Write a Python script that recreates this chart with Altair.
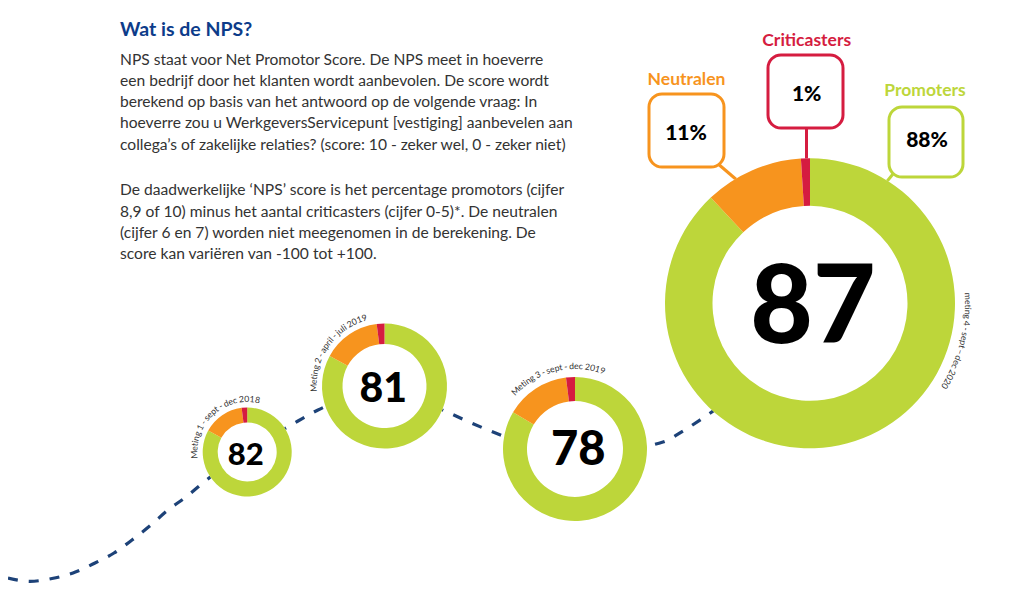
import math
import pandas as pd
import altair as alt

# ------------------------------------------------------------------ data
categories = ["Promoters", "Neutralen", "Criticasters"]
meting_labels = [
    "Meting 1 - sept - dec 2018",
    "Meting 2 - april - juli 2019",
    "Meting 3 - sept - dec 2019",
    "meting 4 - sept \u2013 dec 2020",
]
nps_scores = [82, 81, 78, 87]
promoters = [83.0, 83.0, 83.5, 88.0]
neutralen = [15.0, 15.0, 14.5, 11.0]
criticasters = [2.0, 2.0, 2.0, 1.0]
callout_values = ["88%", "11%", "1%"]          # Promoters, Neutralen, Criticasters
title_text = "Wat is de NPS?"
body_lines = [
    "NPS staat voor Net Promotor Score. De NPS meet in hoeverre",
    "een bedrijf door het klanten wordt aanbevolen. De score wordt",
    "berekend op basis van het antwoord op de volgende vraag: In",
    "hoeverre zou u WerkgeversServicepunt [vestiging] aanbevelen aan",
    "collega\u2019s of zakelijke relaties? (score: 10 - zeker wel, 0 - zeker niet)",
    "De daadwerkelijke \u2018NPS\u2019 score is het percentage promotors (cijfer",
    "8,9 of 10) minus het aantal criticasters (cijfer 0-5)*. De neutralen",
    "(cijfer 6 en 7) worden niet meegenomen in de berekening. De",
    "score kan vari\u00ebren van -100 tot +100.",
]

# ------------------------------------------------------------------ layout (page pixels)
W, H = 1000, 575
X0, Y0 = 8, 8
FONT = "Lato"
cat_colors = ["#bdd63a", "#f7941e", "#d51c40"]
navy = "#0d3c8a"
line_color = "#1d4278"
text_color = "#333333"

donut_cx = [247.2, 384.5, 575.0, 810.0]
donut_cy = [452.0, 386.0, 449.0, 303.3]
donut_ro = [44.5, 62.5, 72.0, 145.0]
donut_ri = [29.5, 42.0, 48.0, 97.5]
num_x = [245.8, 383.3, 578.3, 813.0]
num_y = [465.0, 401.7, 465.0, 343.3]
num_fs = [31, 41, 47, 108]
lab_r = [50.0, 68.0, 80.0, 155.0]
lab_mid = [-41.5, -54.5, -13.5, 104.3]
lab_fs = 8.7

path_x = [8, 30, 52, 73, 95, 114, 132, 151, 168, 186, 204, 298, 318, 384, 447, 467, 488, 575, 663, 683, 703, 740]
path_y = [578, 581.3, 578.5, 573, 563, 553, 540, 525, 510, 497, 482, 421, 410, 392, 412, 421, 430, 455, 442, 431, 418, 392]

box_x0 = [889, 649, 768]
box_x1 = [963, 724, 843]
box_y0 = [107, 94, 55]
box_y1 = [177, 167, 128]
head_x = [925, 686.5, 806.7]
head_y = [96, 85, 46]
val_x = [927, 686, 806.7]
val_y = [146.7, 140, 101]
con_x0 = [893, 717, 806.5]
con_y0 = [174, 163, 128]
con_x1 = [884, 738, 806.5]
con_y1 = [185, 181, 165]

title_xy = (120, 36)
body_x = 120
body_y = [65, 86, 106.7, 128.3, 150, 195, 216.7, 237.7, 259.3]

# approximate glyph advance widths (em) for curved labels
CW = {" ": 0.2, "-": 0.34, "\u2013": 0.5, "M": 0.82, "a": 0.5, "b": 0.56, "c": 0.46,
      "d": 0.56, "e": 0.52, "f": 0.32, "g": 0.5, "h": 0.55, "i": 0.24, "j": 0.24,
      "k": 0.5, "l": 0.24, "m": 0.83, "n": 0.55, "o": 0.55, "p": 0.55, "r": 0.36,
      "s": 0.42, "t": 0.35, "u": 0.55, "v": 0.5, "w": 0.76}

# ------------------------------------------------------------------ tables
xs = alt.Scale(domain=[X0, X0 + W], nice=False, zero=False)
ys = alt.Scale(domain=[Y0, Y0 + H], nice=False, zero=False, reverse=True)
ts = alt.Scale(domain=[0, 360], range=[0, 2 * math.pi], nice=False, zero=False)
cat_scale = alt.Scale(domain=categories, range=cat_colors)


def X(f):
    return alt.X(f"{f}:Q", scale=xs, axis=None)


def Y(f):
    return alt.Y(f"{f}:Q", scale=ys, axis=None)


rows = []
for i in range(4):
    shares = [promoters[i], neutralen[i], criticasters[i]]
    tot = sum(shares)
    cum = 0.0
    for cat, v in zip(categories, shares):
        rows.append(dict(meting=i, cat=cat, cx=donut_cx[i], cy=donut_cy[i],
                         ro=donut_ro[i], ri=donut_ri[i],
                         t0=cum / tot * 360, t1=(cum + v) / tot * 360))
        cum += v
donut_df = pd.DataFrame(rows)
disc_df = pd.DataFrame(dict(cx=donut_cx, cy=donut_cy, ro=donut_ro, t0=[0] * 4, t1=[360] * 4))
num_df = pd.DataFrame(dict(x=num_x, y=num_y, fs=num_fs, txt=[str(v) for v in nps_scores]))
path_df = pd.DataFrame(dict(x=path_x, y=path_y))

chars = []
for i, lab in enumerate(meting_labels):
    ws = [CW.get(c, 0.58 if c.isdigit() else 0.52) * lab_fs for c in lab]
    L = sum(ws)
    r = lab_r[i]
    start = math.radians(lab_mid[i]) - (L / r) / 2
    cum = 0.0
    for c, w in zip(lab, ws):
        th = start + (cum + w / 2) / r
        deg = math.degrees(th)
        chars.append(dict(ch=c, cx=donut_cx[i], cy=donut_cy[i], r=r,
                          th=deg, rot=deg % 360))
        cum += w
char_df = pd.DataFrame(chars)

call_df = pd.DataFrame(dict(cat=categories, val=callout_values,
                            x0=box_x0, x1=box_x1, y0=box_y0, y1=box_y1,
                            hx=head_x, hy=head_y, vx=val_x, vy=val_y,
                            cx0=con_x0, cy0=con_y0, cx1=con_x1, cy1=con_y1))
body_df = pd.DataFrame(dict(x=[body_x] * len(body_lines), y=body_y, txt=body_lines))
title_df = pd.DataFrame(dict(x=[title_xy[0]], y=[title_xy[1]], txt=[title_text]))

# ------------------------------------------------------------------ layers
path = alt.Chart(path_df).mark_line(
    interpolate="monotone", color=line_color, strokeWidth=3.2, strokeDash=[10, 11]
).encode(x=X("x"), y=Y("y"), order="x:Q")

connectors = alt.Chart(call_df).mark_rule(strokeWidth=3).encode(
    x=X("cx0"), y=Y("cy0"), x2="cx1", y2="cy1",
    stroke=alt.Stroke("cat:N", scale=cat_scale, legend=None))

discs = alt.Chart(disc_df).mark_arc(fill="white").encode(
    x=X("cx"), y=Y("cy"),
    theta=alt.Theta("t0:Q", scale=ts, stack=None), theta2="t1:Q",
    radius=alt.Radius("ro:Q", scale=None))

rings = alt.Chart(donut_df).mark_arc().encode(
    x=X("cx"), y=Y("cy"),
    theta=alt.Theta("t0:Q", scale=ts, stack=None), theta2="t1:Q",
    radius=alt.Radius("ro:Q", scale=None), radius2="ri:Q",
    color=alt.Color("cat:N", scale=cat_scale, legend=None))

numbers = alt.Chart(num_df).mark_text(
    font=FONT, fontWeight=900, color="black", align="center", baseline="alphabetic"
).encode(x=X("x"), y=Y("y"), text="txt:N", size=alt.Size("fs:Q", scale=None))

labels = alt.Chart(char_df).mark_text(
    font=FONT, fontSize=lab_fs, color="#333333", align="center", baseline="alphabetic"
).encode(x=X("cx"), y=Y("cy"), text="ch:N",
         theta=alt.Theta("th:Q", scale=ts, stack=None),
         radius=alt.Radius("r:Q", scale=None),
         angle=alt.Angle("rot:Q", scale=None))

boxes = alt.Chart(call_df).mark_rect(fill="white", strokeWidth=3, cornerRadius=13).encode(
    x=X("x0"), x2="x1:Q", y=Y("y0"), y2="y1:Q",
    stroke=alt.Stroke("cat:N", scale=cat_scale, legend=None))

heads = alt.Chart(call_df).mark_text(
    font=FONT, fontWeight="bold", fontSize=17.5, align="center", baseline="alphabetic"
).encode(x=X("hx"), y=Y("hy"), text="cat:N",
         color=alt.Color("cat:N", scale=cat_scale, legend=None))

vals = alt.Chart(call_df).mark_text(
    font=FONT, fontWeight=900, fontSize=21, color="black", align="center", baseline="alphabetic"
).encode(x=X("vx"), y=Y("vy"), text="val:N")

title = alt.Chart(title_df).mark_text(
    font=FONT, fontWeight="bold", fontSize=19.5, color=navy, align="left", baseline="alphabetic"
).encode(x=X("x"), y=Y("y"), text="txt:N")

body = alt.Chart(body_df).mark_text(
    font=FONT, fontSize=15.6, color=text_color, align="left", baseline="alphabetic"
).encode(x=X("x"), y=Y("y"), text="txt:N")

chart = alt.layer(
    path, connectors, discs, rings, numbers, labels, boxes, heads, vals, title, body
).properties(
    width=W, height=H, padding=0,
    autosize=alt.AutoSizeParams(type="none"),
    background="white",
).configure_view(stroke=None)

chart.save("out.html", embed_options={"renderer": "svg", "actions": False})
